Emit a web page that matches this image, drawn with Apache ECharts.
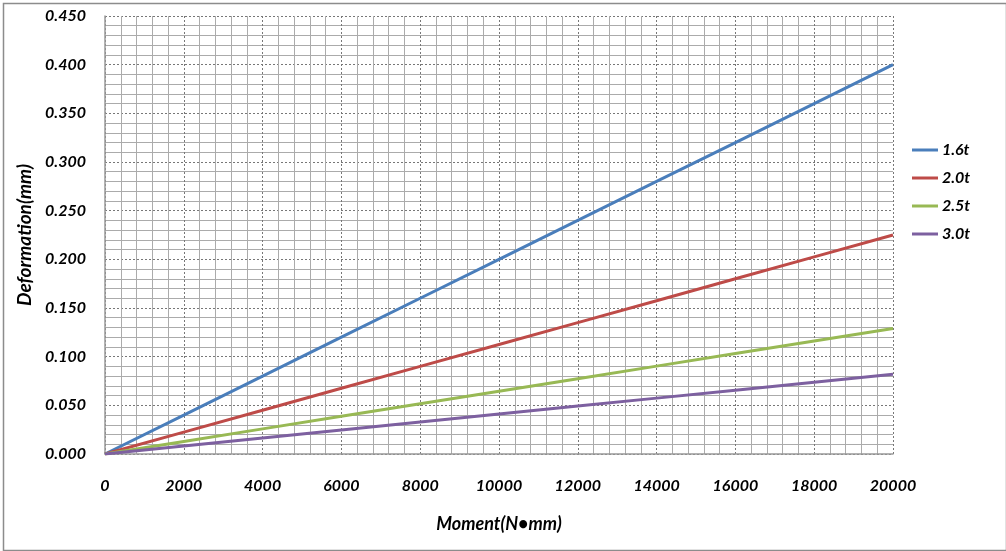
<!DOCTYPE html>
<html>
<head>
<meta charset="utf-8">
<script src="https://cdn.jsdelivr.net/npm/echarts@6/dist/echarts.min.js"></script>
<style>
html,body{margin:0;padding:0;background:#fff;}
#c{width:1006px;height:551px;}
</style>
</head>
<body>
<div id="c"></div>
<script>
const moments = [0, 2000, 4000, 6000, 8000, 10000, 12000, 14000, 16000, 18000, 20000];
const s16 = [0, 0.040, 0.080, 0.120, 0.160, 0.200, 0.240, 0.280, 0.320, 0.360, 0.400];
const s20 = [0, 0.0225, 0.045, 0.0675, 0.090, 0.1125, 0.135, 0.1575, 0.180, 0.2025, 0.225];
const s25 = [0, 0.0129, 0.0258, 0.0387, 0.0516, 0.0645, 0.0774, 0.0903, 0.1032, 0.1161, 0.129];
const s30 = [0, 0.0082, 0.0164, 0.0246, 0.0328, 0.041, 0.0492, 0.0574, 0.0656, 0.0738, 0.082];
const seriesNames = ['1.6t', '2.0t', '2.5t', '3.0t'];
const seriesData = [s16, s20, s25, s30];
const colors = ['#4a7ebb', '#be4b48', '#98b954', '#7d60a0'];

const font = 'Lato, "Open Sans", sans-serif';
const chart = echarts.init(document.getElementById('c'));
chart.setOption({
  animation: false,
  graphic: [{
    type: 'rect', left: 1, top: 1, shape: {x: 1, y: 1, width: 1003, height: 547},
    style: {fill: 'none', stroke: '#8c8c8c', lineWidth: 1.5}, silent: true, z: -1
  }],
  grid: {left: 105, right: 113, top: 16, bottom: 97},
  legend: {
    orient: 'vertical', left: 907, top: 137,
    icon: 'rect', itemWidth: 26, itemHeight: 3, itemGap: 12,
    textStyle: {fontFamily: font, fontSize: 16, fontWeight: 'bold', fontStyle: 'italic', color: '#000', padding: [0, 0, 0, -1]},
    data: seriesNames
  },
  xAxis: {
    type: 'value', min: 0, max: 20000, interval: 2000,
    name: 'Moment(N\u2022mm)', nameLocation: 'middle', nameGap: 61,
    nameTextStyle: {fontFamily: font, fontSize: 18, fontWeight: 'bold', fontStyle: 'italic', color: '#000'},
    axisLine: {show: true, lineStyle: {color: '#999', width: 1.5}},
    axisTick: {show: false},
    axisLabel: {margin: 24, fontFamily: font, fontSize: 16, fontWeight: 'bold', fontStyle: 'italic', color: '#000',
      formatter: v => String(v)},
    splitLine: {show: true, lineStyle: {color: '#777', type: [2, 2], width: 1}},
    minorTick: {show: false, splitNumber: 5},
    minorSplitLine: {show: true, lineStyle: {color: '#ababab', width: 1}}
  },
  yAxis: {
    type: 'value', min: 0, max: 0.45, interval: 0.05,
    name: 'Deformation(mm)', nameLocation: 'middle', nameGap: 58,
    nameTextStyle: {fontFamily: font, fontSize: 19, fontWeight: 'bold', fontStyle: 'italic', color: '#000'},
    axisLine: {show: true, lineStyle: {color: '#999', width: 1.5}},
    axisTick: {show: false},
    axisLabel: {margin: 19, fontFamily: font, fontSize: 16, fontWeight: 'bold', fontStyle: 'italic', color: '#000',
      formatter: v => v.toFixed(3)},
    splitLine: {show: true, lineStyle: {color: '#777', type: [2, 2], width: 1}},
    minorTick: {show: false, splitNumber: 5},
    minorSplitLine: {show: true, lineStyle: {color: '#ababab', width: 1}}
  },
  series: seriesNames.map((n, i) => ({
    name: n, type: 'line', symbol: 'none', color: colors[i],
    lineStyle: {width: 3, color: colors[i]},
    data: moments.map((m, j) => [m, seriesData[i][j]])
  }))
});
</script>
</body>
</html>
